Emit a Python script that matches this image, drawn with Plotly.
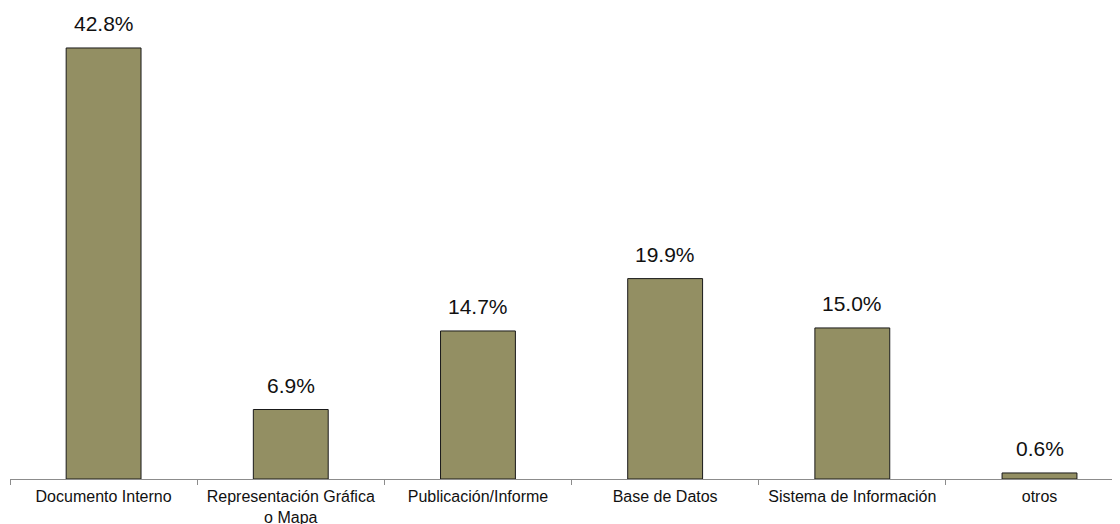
import plotly.graph_objects as go

categorias = ["Documento Interno", "Representación Gráfica<br>o Mapa", "Publicación/Informe",
              "Base de Datos", "Sistema de Información", "otros"]
valores = [42.8, 6.9, 14.7, 19.9, 15.0, 0.6]
etiquetas = [f"{v:.1f}%" for v in valores]

COLOR_BARRA = "#938F63"
FONT = "Liberation Sans, Arial, sans-serif"

fig = go.Figure(go.Bar(x=categorias, y=valores, width=0.4,
                       marker=dict(color=COLOR_BARRA, line=dict(color="#1a1a1a", width=1)),
                       hoverinfo="x+y"))

# etiquetas de porcentaje sobre cada barra
for c, v, t in zip(categorias, valores, etiquetas):
    fig.add_annotation(x=c, y=v, text=t, showarrow=False, yanchor="bottom", yshift=11,
                       font=dict(size=21, color="#111", family=FONT))

# la página deja 8px de margen: figura algo menor para que no aparezcan barras de scroll
fig.update_layout(
    width=1112, height=516, template="plotly_white",
    plot_bgcolor="white", paper_bgcolor="white",
    margin=dict(l=2, r=0, t=0, b=45, autoexpand=False),
    showlegend=False,
    font=dict(family=FONT, color="#111"),
)
fig.update_xaxes(type="category", range=[-0.5, 5.43], showline=True, linecolor="#8c8c8c", linewidth=1,
                 ticks="outside", tickson="boundaries", ticklen=5, tickcolor="#8c8c8c",
                 tickangle=0, automargin=False, ticklabelstandoff=3,
                 showgrid=False, tickfont=dict(size=16, family=FONT, color="#111"))
fig.update_yaxes(range=[0, 46.77], visible=False, showgrid=False, automargin=False)

fig.write_html("out.html")
